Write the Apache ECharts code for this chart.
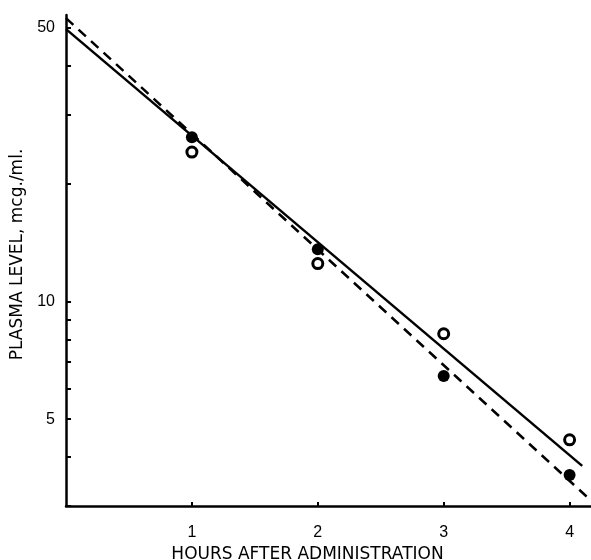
<!DOCTYPE html>
<html>
<head>
<meta charset="utf-8">
<script src="https://cdn.jsdelivr.net/npm/echarts@6/dist/echarts.min.js"></script>
<style>
html,body{margin:0;padding:0;background:#fff;}
#c{width:591px;height:560px;}
</style>
</head>
<body>
<div id="c"></div>
<script>
// Data (hours vs plasma level, mcg./ml., log scale)
const filledPoints = [[1, 26.3], [2, 13.6], [3, 6.45], [4, 3.6]];
const openPoints = [[1, 24.1], [2, 12.5], [3, 8.27], [4, 4.43]];
const solidLine = [[0, 49.7], [4.1, 3.8]];
const dashedLine = [[0, 53], [4.15, 3.14]];
const yTickValues = [3, 4, 5, 6, 7, 8, 9, 10, 20, 30, 40, 50];
const yLabelValues = [5, 10, 50];
const xTickValues = [1, 2, 3, 4];
const xLabelValues = [1, 2, 3, 4];
const xName = 'HOURS AFTER ADMINISTRATION';
const yName = 'PLASMA LEVEL, mcg./ml.';

const chart = echarts.init(document.getElementById('c'));
chart.setOption({
  backgroundColor: '#fff',
  animation: false,
  grid: { left: 66, right: 0, top: 15, bottom: 54, containLabel: false, outerBoundsMode: 'none' },
  xAxis: {
    type: 'value',
    min: 0,
    max: 4.17,
    interval: 1,
    name: xName,
    nameLocation: 'middle',
    nameGap: 36,
    nameTextStyle: { color: '#000', fontSize: 17, fontFamily: 'DejaVu Sans', padding: [0, 42, 0, 0] },
    axisLine: { show: true, onZero: false, lineStyle: { color: '#000', width: 2.5 } },
    axisTick: { show: true, inside: true, length: 4, customValues: xTickValues, lineStyle: { color: '#000', width: 2 } },
    axisLabel: { show: true, customValues: xLabelValues, margin: 19, color: '#000', fontSize: 16, fontFamily: 'Liberation Sans' },
    splitLine: { show: false }
  },
  yAxis: {
    type: 'log',
    logBase: 10,
    min: 3,
    max: 54,
    name: yName,
    nameLocation: 'middle',
    nameGap: 39,
    nameTextStyle: { color: '#000', fontSize: 17, fontFamily: 'DejaVu Sans', padding: [0, 0, 0, 12] },
    axisLine: { show: true, onZero: false, lineStyle: { color: '#000', width: 2.5 } },
    axisTick: { show: true, inside: true, length: 5, customValues: yTickValues, lineStyle: { color: '#000', width: 2 } },
    axisLabel: { show: true, customValues: yLabelValues, margin: 11, color: '#000', fontSize: 16, fontFamily: 'Liberation Sans' },
    splitLine: { show: false },
    minorTick: { show: false }
  },
  series: [
    {
      type: 'line',
      data: solidLine,
      symbol: 'none',
      lineStyle: { color: '#000', width: 2.5, type: 'solid' },
      z: 2
    },
    {
      type: 'line',
      data: dashedLine,
      symbol: 'none',
      lineStyle: { color: '#000', width: 2.5, type: [10, 7] },
      z: 2
    },
    {
      type: 'scatter',
      data: filledPoints,
      symbol: 'circle',
      symbolSize: 12,
      itemStyle: { color: '#000', opacity: 1 },
      z: 3
    },
    {
      type: 'scatter',
      data: openPoints,
      symbol: 'circle',
      symbolSize: 10,
      itemStyle: { color: '#fff', borderColor: '#000', borderWidth: 3, opacity: 1 },
      z: 3
    }
  ]
});
</script>
</body>
</html>
